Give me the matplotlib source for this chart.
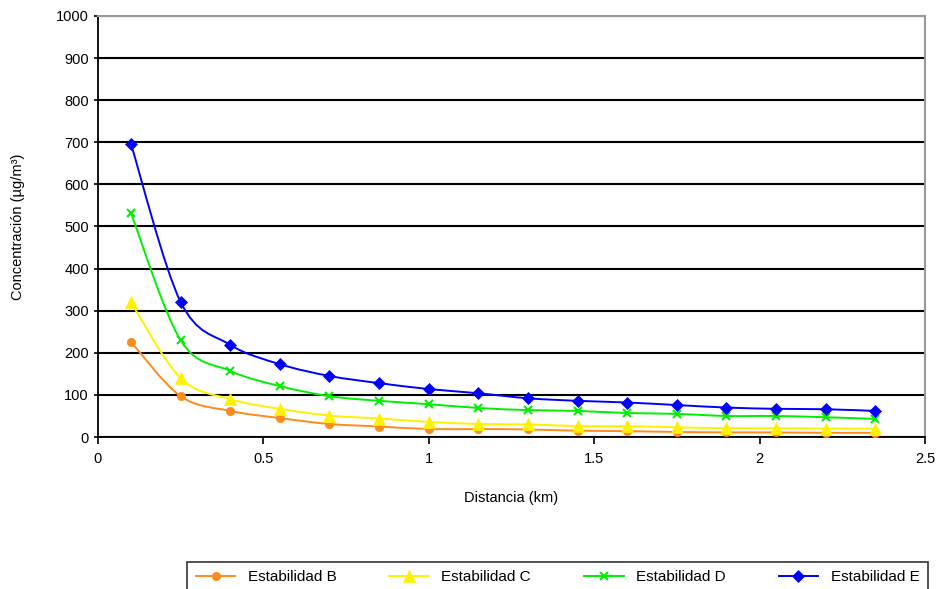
import numpy as np
import matplotlib
matplotlib.use("Agg")
import matplotlib.pyplot as plt
from matplotlib.path import Path
from matplotlib.patches import PathPatch
from matplotlib.lines import Line2D

plt.rcParams['font.family'] = ['Liberation Sans', 'DejaVu Sans']

distancia = [0.1, 0.25, 0.4, 0.55, 0.7, 0.85, 1.0, 1.15, 1.3, 1.45, 1.6, 1.75, 1.9, 2.05, 2.2, 2.35]
est_b = [226, 97, 62, 45, 31, 25, 19, 19, 18, 15, 14, 12, 11, 11, 10, 10]
est_c = [320, 140, 90, 67, 51, 44, 36, 31, 30, 26, 26, 23, 21, 21, 20, 20]
est_d = [532, 230, 157, 121, 97, 86, 78, 69, 64, 62, 57, 55, 50, 50, 47, 43]
est_e = [696, 321, 219, 173, 145, 128, 114, 104, 92, 86, 82, 76, 70, 67, 66, 62]

series = [
    ("Estabilidad B", est_b, "#FF8C1A", "o", 6, "#FF8C1A"),
    ("Estabilidad C", est_c, "#FFF200", "^", 8, "#FFF200"),
    ("Estabilidad D", est_d, "#00F000", "x", 6, "#00F000"),
    ("Estabilidad E", est_e, "#0000FF", "D", 6, "#0000FF"),
]

fig = plt.figure(figsize=(9.41, 5.89), dpi=100)
ax = fig.add_axes([0.104, 0.258, 0.879, 0.715])


def smooth_path(x, y, t=1/6):
    x = np.asarray(x, float); y = np.asarray(y, float)
    verts = [(x[0], y[0])]
    codes = [Path.MOVETO]
    n = len(x)
    for i in range(n - 1):
        p0 = (x[i-1], y[i-1]) if i > 0 else (x[i], y[i])
        p1 = (x[i], y[i]); p2 = (x[i+1], y[i+1])
        p3 = (x[i+2], y[i+2]) if i + 2 < n else p2
        c1 = (p1[0] + (p2[0]-p0[0])*t, p1[1] + (p2[1]-p0[1])*t)
        c2 = (p2[0] - (p3[0]-p1[0])*t, p2[1] - (p3[1]-p1[1])*t)
        verts += [c1, c2, p2]
        codes += [Path.CURVE4]*3
    return Path(verts, codes)

handles = []
for name, vals, col, mk, ms, mc in series:
    patch = PathPatch(smooth_path(distancia, vals), facecolor='none', edgecolor=col, lw=1.4, zorder=3)
    ax.add_patch(patch)
    ax.plot(distancia, vals, linestyle='none', marker=mk, markersize=ms, color=mc,
            markeredgewidth=1.5 if mk == 'x' else 0.5, zorder=4)
    handles.append(Line2D([], [], color=col, lw=1.4, marker=mk, markersize=ms,
                          markeredgewidth=1.5 if mk == 'x' else 0.5))

ax.set_xlim(0, 2.5)
ax.set_ylim(0, 1000)
ax.set_xticks([0, 0.5, 1, 1.5, 2, 2.5])
ax.set_xticklabels(["0", "0.5", "1", "1.5", "2", "2.5"])
ax.set_yticks(range(0, 1001, 100))
ax.yaxis.grid(True, color='black', lw=1.5)
ax.set_axisbelow(True)
for s in ['top', 'right']:
    ax.spines[s].set_color('#999999')
    ax.spines[s].set_linewidth(1.5)
for s in ['left', 'bottom']:
    ax.spines[s].set_color('black')
    ax.spines[s].set_linewidth(1.3)
ax.tick_params(axis='y', direction='inout', length=6, width=1.2, labelsize=10.5)
ax.tick_params(axis='x', direction='out', length=5, width=1.2, labelsize=10.5, pad=6)
ax.set_xlabel("Distancia (km)", fontsize=10.5, labelpad=18)
ax.set_ylabel("Concentración (µg/m³)", fontsize=10.5, labelpad=22)

leg = fig.legend(handles, [s[0] for s in series], loc='upper left',
                 bbox_to_anchor=(0.191, 0.0594, 0.803, 0.0), mode='expand', ncol=4,
                 frameon=True, fancybox=False, edgecolor='black', fontsize=11,
                 handlelength=2.6, borderpad=0.55, columnspacing=1.5)
leg.get_frame().set_linewidth(1.2)

fig.savefig("out.png", dpi=100)
